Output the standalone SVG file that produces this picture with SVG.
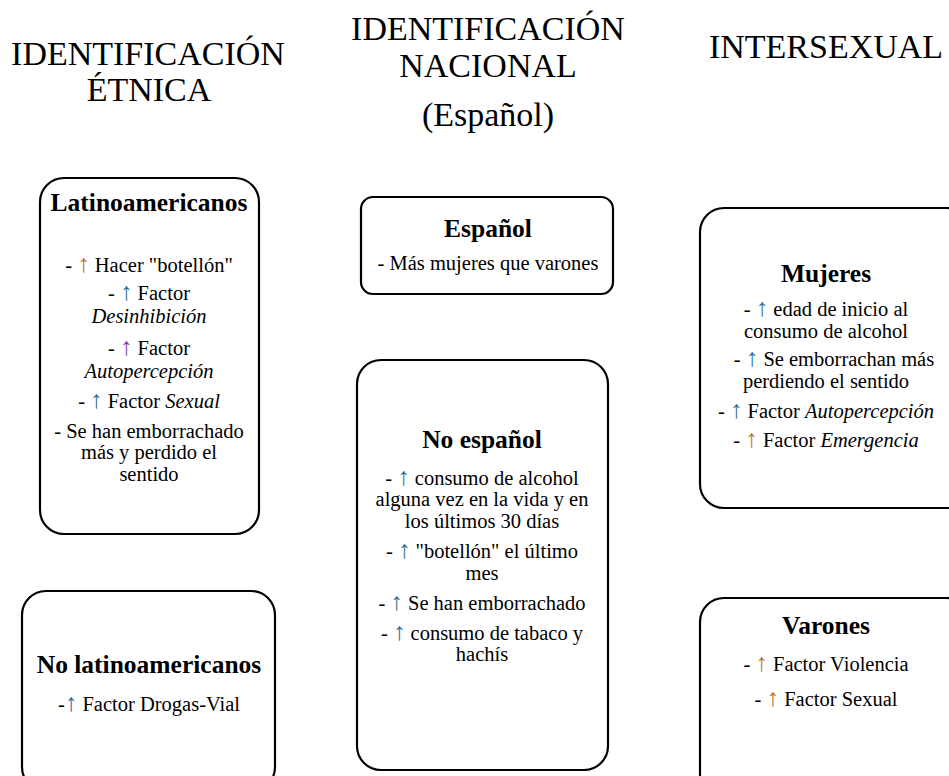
<svg xmlns="http://www.w3.org/2000/svg" width="949" height="776" viewBox="0 0 949 776">
<style>
text{font-family:"Liberation Serif","Times New Roman",serif;fill:#000;text-anchor:middle}
.h{font-size:34px}
.t{font-size:25.5px;font-weight:bold}
.b{font-size:20.5px}
.a{font-size:25px;fill:#2a6f97}
.o{fill:#c0702a}
.p{fill:#7a3e9d}
.box{fill:#fff;stroke:#000;stroke-width:2.2}
</style>
<rect width="949" height="776" fill="#fff"/>
<g id="headers">
<text class="h" x="148" y="65">IDENTIFICACIÓN</text>
<text class="h" x="149" y="101">ÉTNICA</text>
<text class="h" x="488" y="40">IDENTIFICACIÓN</text>
<text class="h" x="488" y="77">NACIONAL</text>
<text class="h" x="488" y="126">(Español)</text>
<text class="h" x="826" y="58">INTERSEXUAL</text>
</g>
<g id="latinoamericanos">
<rect class="box" x="40" y="178" width="219" height="356" rx="24"/>
<text class="t" x="149" y="211">Latinoamericanos</text>
<text class="b" x="149" y="272">- <tspan class="a o">↑</tspan> Hacer "botellón"</text>
<text class="b" x="149" y="300">-  <tspan class="a">↑</tspan> Factor</text>
<text class="b" x="149" y="323" font-style="italic">Desinhibición</text>
<text class="b" x="149" y="355">- <tspan class="a p">↑</tspan> Factor</text>
<text class="b" x="149" y="378" font-style="italic">Autopercepción</text>
<text class="b" x="149" y="408">-  <tspan class="a">↑</tspan>  Factor <tspan font-style="italic">Sexual</tspan></text>
<text class="b" x="149" y="438">- Se han emborrachado</text>
<text class="b" x="149" y="459">más y perdido el</text>
<text class="b" x="149" y="481">sentido</text>
</g>
<g id="no-latinoamericanos">
<rect class="box" x="22" y="591" width="253" height="200" rx="24"/>
<text class="t" x="149" y="673">No latinoamericanos</text>
<text class="b" x="149" y="711">-<tspan class="a">↑</tspan>  Factor Drogas-Vial</text>
</g>
<g id="espanol">
<rect class="box" x="361" y="197" width="252" height="97" rx="12"/>
<text class="t" x="488" y="237">Español</text>
<text class="b" x="488" y="270">- Más mujeres que varones</text>
</g>
<g id="no-espanol">
<rect class="box" x="357" y="360" width="251" height="410" rx="24"/>
<text class="t" x="482" y="448">No español</text>
<text class="b" x="482" y="485">- <tspan class="a">↑</tspan> consumo de alcohol</text>
<text class="b" x="482" y="506">alguna vez en la vida y en</text>
<text class="b" x="482" y="528">los últimos 30 días</text>
<text class="b" x="482" y="558">- <tspan class="a">↑</tspan>  "botellón" el último</text>
<text class="b" x="482" y="580">mes</text>
<text class="b" x="482" y="610">- <tspan class="a">↑</tspan>  Se han emborrachado</text>
<text class="b" x="482" y="640">- <tspan class="a">↑</tspan> consumo de tabaco y</text>
<text class="b" x="482" y="661">hachís</text>
</g>
<g id="mujeres">
<rect class="box" x="700" y="208" width="270" height="300" rx="24"/>
<text class="t" x="826" y="282">Mujeres</text>
<text class="b" x="826" y="316">- <tspan class="a">↑</tspan>  edad de inicio al</text>
<text class="b" x="826" y="338">consumo de alcohol</text>
<text class="b" x="834" y="366">- <tspan class="a">↑</tspan> Se emborrachan más</text>
<text class="b" x="826" y="388">perdiendo el sentido</text>
<text class="b" x="826" y="418">- <tspan class="a">↑</tspan> Factor <tspan font-style="italic">Autopercepción</tspan></text>
<text class="b" x="826" y="447">- <tspan class="a o">↑</tspan> Factor <tspan font-style="italic">Emergencia</tspan></text>
</g>
<g id="varones">
<rect class="box" x="700" y="598" width="270" height="200" rx="24"/>
<text class="t" x="826" y="634">Varones</text>
<text class="b" x="826" y="671">- <tspan class="a o">↑</tspan> Factor Violencia</text>
<text class="b" x="826" y="706">- <tspan class="a o">↑</tspan> Factor Sexual</text>
</g>
<g id="connectors"></g>
</svg>
